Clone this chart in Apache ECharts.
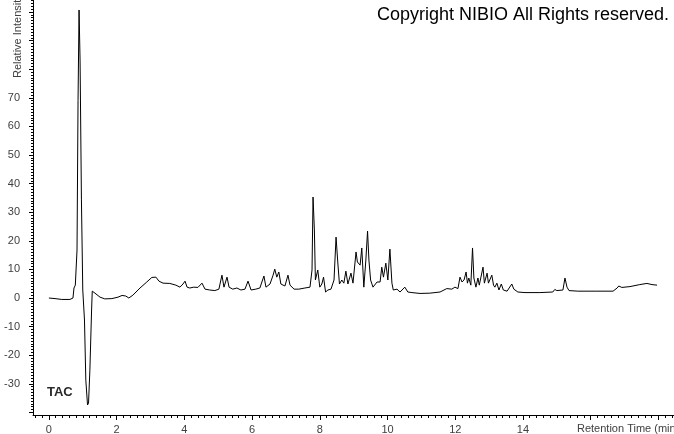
<!DOCTYPE html>
<html><head><meta charset="utf-8">
<script src="https://cdn.jsdelivr.net/npm/echarts@6/dist/echarts.min.js"></script>
<style>html,body{margin:0;padding:0;background:#fff}#c{width:674px;height:434px}</style>
</head><body><div id="c"></div>
<script>
// Retention time (min)
const retentionTime = [
0.00,0.18,0.38,0.62,0.71,0.74,0.78,0.83,0.86,0.89,
0.92,0.96,1.00,1.05,1.09,1.14,1.17,1.21,1.26,1.28,
1.36,1.51,1.65,1.86,2.04,2.16,2.27,2.36,2.48,2.69,
2.89,3.04,3.16,3.25,3.37,3.57,3.75,3.87,3.96,4.02,
4.08,4.16,4.28,4.40,4.52,4.61,4.75,4.90,5.02,5.11,
5.17,5.26,5.32,5.43,5.55,5.67,5.79,5.88,5.97,6.11,
6.23,6.35,6.41,6.53,6.62,6.67,6.73,6.79,6.85,6.97,
7.06,7.12,7.24,7.38,7.56,7.71,7.77,7.80,7.84,7.87,
7.94,8.00,8.06,8.11,8.17,8.24,8.33,8.42,8.48,8.53,
8.58,8.65,8.71,8.77,8.83,8.92,8.98,9.07,9.11,9.19,
9.24,9.30,9.36,9.41,9.45,9.50,9.57,9.69,9.78,9.83,
9.88,9.95,10.01,10.07,10.13,10.17,10.28,10.37,10.51,10.60,
10.72,10.96,11.25,11.55,11.75,11.90,11.99,12.08,12.14,12.20,
12.26,12.32,12.36,12.40,12.46,12.51,12.55,12.61,12.67,12.71,
12.82,12.86,12.94,12.98,13.08,13.13,13.17,13.23,13.29,13.36,
13.42,13.53,13.67,13.73,13.85,14.06,14.50,14.88,14.94,15.00,
15.18,15.24,15.30,15.36,15.62,16.13,16.66,16.78,16.83,16.92,
17.16,17.45,17.66,17.81,17.96
];
// Relative intensity (TAC)
const intensity = [
0,-0.2,-0.5,-0.5,0,3.5,4.5,16.8,69,100.7,
83.2,34.3,2.8,-7.7,-28.7,-37.4,-36.7,-25.2,-4.2,2.4,
1.7,0.3,-0.3,-0.2,0.3,0.9,0.7,0,1.0,3.5,
5.6,7.2,7.3,5.9,5.2,5.1,4.5,3.8,4.9,5.9,
3.8,3.5,3.8,3.7,5.2,3.1,2.8,2.6,3.1,8.0,
3.8,7.3,3.8,3.1,3.5,2.8,3.1,5.9,2.8,3.1,
3.5,7.7,3.8,4.9,8.0,10.1,7.3,9.1,4.9,4.2,
8.0,4.5,3.1,3.1,3.5,3.8,9.8,35.3,23.8,6.3,
9.8,3.8,4.9,7.3,2.1,2.8,3.1,6.3,21.3,12.6,
4.9,6.3,5.2,9.4,4.9,8.7,5.2,16.1,12.6,11.5,
17.5,3.8,13.3,23.4,13.3,6.3,3.8,5.6,5.6,10.8,
7.3,12.2,6.3,17.1,5.2,2.8,3.1,2.1,3.8,2.1,
1.9,1.6,1.7,2.1,3.3,3.1,3.8,3.3,7.3,5.6,
6.3,9.1,5.2,7.0,4.5,17.5,7.0,3.8,7.0,4.5,
10.8,5.2,8.7,5.2,8.0,4.5,3.8,5.2,2.8,4.9,
2.8,2.4,4.9,3.1,2.1,1.9,1.9,2.1,3.0,2.6,
2.8,7.0,3.8,2.6,2.4,2.4,2.4,3.5,4.2,3.7,
4.0,4.7,5.1,4.7,4.5
];
const xTickLabels = [0,2,4,6,8,10,12,14];
const xMajorTicks = [0,2,4,6,8,10,12,14,16,18];
const yTickLabels = [-30,-20,-10,0,10,20,30,40,50,60,70];
const yMajorTicks = [-40,-30,-20,-10,0,10,20,30,40,50,60,70,80,90,100];
const titleText = 'Copyright NIBIO All Rights reserved.';
const traceLabel = 'TAC';
const yName = 'Relative Intensity';
const xName = 'Retention Time (min)';

const xMin = -0.47, xMax = 18.46, yMin = -40.9, yMax = 104.2;
const xMinor = []; for (let v = -0.4; v <= 18.41; v += 0.2) xMinor.push(Math.round(v*10)/10);
const yMinor = []; for (let v = -40; v <= 104; v += 1) yMinor.push(v);

const data = retentionTime.map((t, i) => [t, intensity[i]]);
const FONT = '"Liberation Sans", Arial, sans-serif';
const labelColor = '#404040';

const chart = echarts.init(document.getElementById('c'), null, {renderer: 'canvas'});
chart.setOption({
  animation: false,
  backgroundColor: '#fff',
  grid: {left: 33, right: 0, top: 0, bottom: 19, containLabel: false, outerBoundsMode: 'none'},
  xAxis: [{
    type: 'value', min: xMin, max: xMax, position: 'bottom',
    axisLine: {show: true, onZero: false, lineStyle: {color: '#000', width: 1}},
    axisTick: {show: true, customValues: xMajorTicks, length: 5, lineStyle: {color: '#000'}},
    axisLabel: {show: true, customValues: xTickLabels, margin: 9, color: labelColor, fontSize: 11, fontFamily: FONT},
    splitLine: {show: false}
  }, {
    type: 'value', min: xMin, max: xMax, position: 'bottom', offset: 0,
    axisLine: {show: false, onZero: false},
    axisTick: {show: true, customValues: xMinor, length: 3, lineStyle: {color: '#000'}},
    axisLabel: {show: false},
    splitLine: {show: false}
  }],
  yAxis: [{
    type: 'value', min: yMin, max: yMax, position: 'left',
    axisLine: {show: true, onZero: false, lineStyle: {color: '#000', width: 1}},
    axisTick: {show: true, customValues: yMajorTicks, length: 4, lineStyle: {color: '#000'}},
    axisLabel: {show: true, customValues: yTickLabels, margin: 13, color: labelColor, fontSize: 11, fontFamily: FONT},
    splitLine: {show: false}
  }, {
    type: 'value', min: yMin, max: yMax, position: 'left', offset: 0,
    axisLine: {show: false, onZero: false},
    axisTick: {show: true, customValues: yMinor, length: 2, lineStyle: {color: '#000'}},
    axisLabel: {show: false},
    splitLine: {show: false}
  }],
  series: [{
    type: 'line', data: data, xAxisIndex: 0, yAxisIndex: 0,
    showSymbol: false, symbol: 'none', smooth: false,
    lineStyle: {color: '#000', width: 1}
  }],
  graphic: [
    {type: 'text', left: 377, top: 6, style: {text: titleText, font: '18px ' + FONT, fill: '#000'}},
    {type: 'text', left: 47, top: 386, style: {text: traceLabel, font: 'bold 13px ' + FONT, fill: '#2a2a2a'}},
    {type: 'text', left: 577, top: 423, style: {text: xName, font: '11px ' + FONT, fill: labelColor}},
    {type: 'text', x: 18, y: 78, rotation: Math.PI / 2,
     style: {text: yName, font: '11px ' + FONT, fill: labelColor, align: 'left', verticalAlign: 'middle', textAlign: 'left', textVerticalAlign: 'middle'}}
  ]
});
</script>
</body></html>
